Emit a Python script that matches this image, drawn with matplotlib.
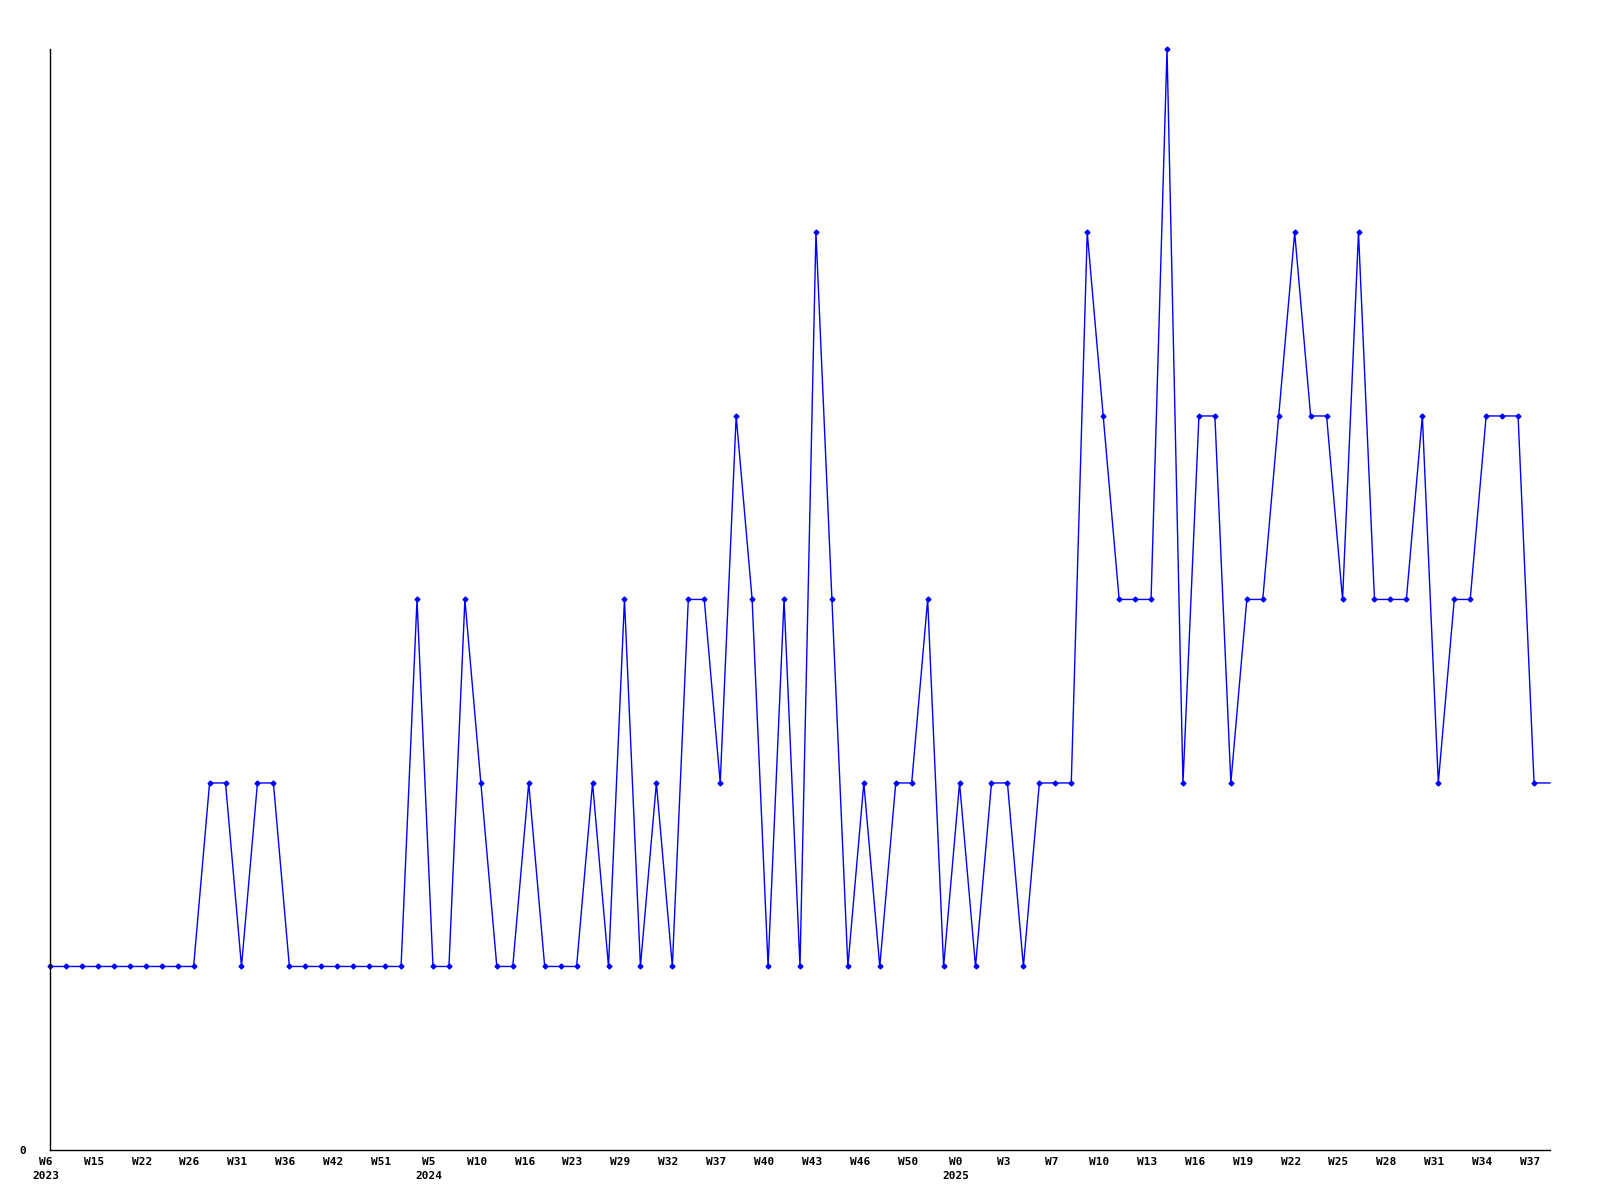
import matplotlib
matplotlib.use("Agg")
import matplotlib.pyplot as plt
import matplotlib.transforms as mtransforms

# weekly counts, one value per point (last value only carries the line to the edge)
counts = [1, 1, 1, 1, 1, 1, 1, 1, 1, 1,
          2, 2, 1, 2, 2, 1, 1, 1, 1, 1,
          1, 1, 1, 3, 1, 1, 3, 2, 1, 1,
          2, 1, 1, 1, 2, 1, 3, 1, 2, 1,
          3, 3, 2, 4, 3, 1, 3, 1, 5, 3,
          1, 2, 1, 2, 2, 3, 1, 2, 1, 2,
          2, 1, 2, 2, 2, 5, 4, 3, 3, 3,
          6, 2, 4, 4, 2, 3, 3, 4, 5, 4,
          4, 3, 5, 3, 3, 3, 4, 2, 3, 3,
          4, 4, 4, 2, 2]

week_labels = ["W6", "W15", "W22", "W26", "W31", "W36", "W42", "W51",
               "W5", "W10", "W16", "W23", "W29", "W32", "W37", "W40",
               "W43", "W46", "W50", "W0", "W3", "W7", "W10", "W13",
               "W16", "W19", "W22", "W25", "W28", "W31", "W34", "W37"]
# label index -> year shown under it
year_labels = {0: "2023", 8: "2024", 19: "2025"}
label_step = 3

fig = plt.figure(figsize=(16, 12), dpi=100)
ax = fig.add_axes([0.03125, 0.0417, 0.9375, 0.9175])

xs = list(range(len(counts)))
ax.plot(xs, counts, color="#0000ff", lw=1, marker="D", ms=2.5,
        markevery=list(range(len(counts) - 1)), clip_on=False)

ax.set_xlim(0, len(counts) - 1)
ax.set_ylim(0, max(counts))

labels = []
for i, w in enumerate(week_labels):
    if i in year_labels:
        labels.append(w + "\n" + year_labels[i])
    else:
        labels.append(w)
ax.set_xticks(xs[::label_step][:len(week_labels)])
ax.set_xticklabels(labels, fontsize=8, fontweight="bold",
                   family="DejaVu Sans Mono", linespacing=1.5)
ax.set_yticks([0])
ax.set_yticklabels(["0"], fontsize=8, fontweight="bold", family="DejaVu Sans Mono")
ax.tick_params(axis="x", length=0, pad=5)
ax.tick_params(axis="y", length=0, pad=17)

# labels sit a few pixels left of their points in the original
shift = mtransforms.ScaledTranslation(-4 / 100, 0, fig.dpi_scale_trans)
for lab in ax.get_xticklabels():
    lab.set_transform(lab.get_transform() + shift)

for s in ["top", "right"]:
    ax.spines[s].set_visible(False)
for s in ["left", "bottom"]:
    ax.spines[s].set_linewidth(1)
    ax.spines[s].set_color("black")

fig.savefig("out.png", dpi=100, facecolor="white")
